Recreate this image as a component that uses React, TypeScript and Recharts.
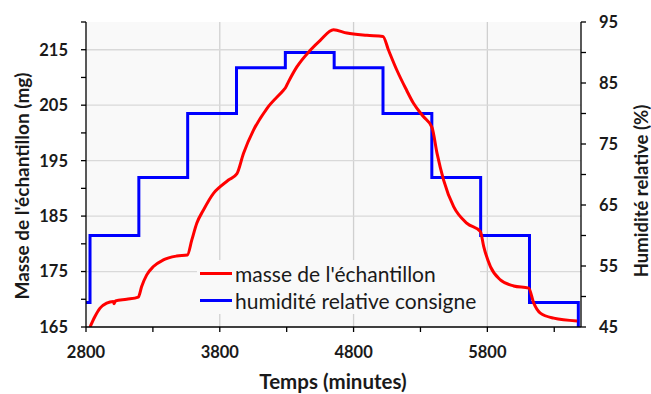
import {
  CartesianGrid,
  ComposedChart,
  Label,
  Legend,
  Line,
  ReferenceLine,
  XAxis,
  YAxis,
} from "recharts";

// sample mass (mg) vs time (minutes)
const massTime = [
  2830, 2867, 2905, 2955, 3004, 3010, 3020, 3104, 3191, 3216, 3254, 3304, 3378,
  3478, 3558, 3591, 3628, 3678, 3753, 3803, 3865, 3927, 3977, 4052, 4152, 4276,
  4290, 4313, 4376, 4476, 4551, 4650, 4750, 4900, 5020, 5060, 5124, 5190, 5249,
  5320, 5386, 5424, 5473, 5548, 5648, 5748, 5773, 5823, 5897, 5997, 6109, 6147,
  6196, 6296, 6471,
];
const massValues = [
  165.0, 166.9, 168.4, 169.3, 169.6, 169.2, 169.7, 170.0, 170.4, 172.3, 174.4,
  175.9, 177.1, 177.8, 178.0, 180.7, 183.7, 186.1, 189.1, 190.3, 191.5, 192.6,
  196.3, 200.5, 204.4, 207.7, 208.1, 209.2, 211.9, 214.9, 216.7, 218.6, 218.0,
  217.6, 217.4, 215.0, 211.3, 208.0, 205.3, 203.0, 201.0, 196.3, 191.5, 186.7,
  183.7, 182.2, 179.5, 175.9, 173.5, 172.4, 172.0, 169.3, 167.5, 166.6, 166.1,
];

// relative humidity set point (%), step changes
const rhTime = [2800, 2830, 3195, 3560, 3925, 4290, 4655, 5020, 5385, 5750, 6115, 6480];
const rhValues = [49, 60, 69.5, 80, 87.5, 90, 87.5, 80, 69.5, 60, 49, 45];

const xTicks = [2800, 3300, 3800, 4300, 4800, 5300, 5800, 6300];
const xLabels = [2800, 3800, 4800, 5800];
const massTicks = [165, 170, 175, 180, 185, 190, 195, 200, 205, 210, 215, 220];
const massLabels = [165, 175, 185, 195, 205, 215];
const rhTicks = [45, 50, 55, 60, 65, 70, 75, 80, 85, 90, 95];
const rhLabels = [45, 55, 65, 75, 85, 95];
const gridX = [3800, 4800, 5800];
const gridY = [175, 185, 195, 205, 215];

const massData = massTime.map((t, i) => ({ t, mass: massValues[i] }));
const rhData = rhTime.map((t, i) => ({ t, rh: rhValues[i] }));

const FONT = "Lato, 'Open Sans', sans-serif";
const INK = "#1a1a1a";

function makeTick(labels: number[], anchor: "start" | "middle" | "end", dy: string) {
  return (props: any) => {
    const { x, y, payload } = props;
    if (!labels.includes(payload.value)) return <g />;
    return (
      <text
        x={x}
        y={y}
        dy={dy}
        textAnchor={anchor}
        fontFamily={FONT}
        fontWeight={700}
        fontSize={16.5}
        fill={INK}
      >
        {payload.value}
      </text>
    );
  };
}

function LegendBox() {
  const items = [
    { name: "masse de l'échantillon", color: "#ff0000" },
    { name: "humidité relative consigne", color: "#0000ff" },
  ];
  return (
    <div
      style={{
        background: "#f9f9f9",
        padding: "0px 4px 0px 3px",
        fontFamily: FONT,
        fontSize: 21,
        color: INK,
        lineHeight: "27px",
      }}
    >
      {items.map((it) => (
        <div key={it.name} style={{ display: "flex", alignItems: "center", whiteSpace: "nowrap" }}>
          <span
            style={{
              display: "inline-block",
              width: 32,
              height: 3,
              background: it.color,
              marginRight: 3,
            }}
          />
          {it.name}
        </div>
      ))}
    </div>
  );
}

export default function App() {
  return (
    <div style={{ position: "absolute", left: 0, top: 0, background: "#fff" }}>
      <ComposedChart
        width={651}
        height={394}
        margin={{ top: 22, right: 0, bottom: 0, left: 0 }}
      >
        <CartesianGrid fill="#f9f9f9" horizontal={false} vertical={false} />
        <XAxis
          type="number"
          dataKey="t"
          domain={[2800, 6500]}
          ticks={xTicks}
          interval={0}
          height={67}
          tickSize={5}
          tickMargin={14}
          stroke="#000"
          strokeWidth={1.3}
          tick={makeTick(xLabels, "middle", "0.71em")}
          allowDataOverflow
        >
          <Label
            content={() => (
              <text
                x={333}
                y={389}
                textAnchor="middle"
                fontFamily={FONT}
                fontWeight={700}
                fontSize={20.5}
                fill={INK}
              >
                Temps (minutes)
              </text>
            )}
          />
        </XAxis>
        <YAxis
          yAxisId="mass"
          orientation="left"
          domain={[165, 220]}
          ticks={massTicks}
          interval={0}
          width={86}
          tickSize={5}
          tickMargin={13}
          stroke="#000"
          strokeWidth={1.3}
          tick={makeTick(massLabels, "end", "0.36em")}
          allowDataOverflow
        >
          <Label
            content={() => (
              <text
                x={29}
                y={186}
                transform="rotate(-90 29 186)"
                textAnchor="middle"
                fontFamily={FONT}
                fontWeight={700}
                fontSize={19}
                fill={INK}
              >
                Masse de l'échantillon (mg)
              </text>
            )}
          />
        </YAxis>
        <YAxis
          yAxisId="rh"
          orientation="right"
          domain={[45, 95]}
          ticks={rhTicks}
          interval={0}
          width={70}
          tickSize={5}
          tickMargin={13}
          stroke="#000"
          strokeWidth={1.3}
          tick={makeTick(rhLabels, "start", "0.36em")}
          allowDataOverflow
        >
          <Label
            content={() => (
              <text
                x={648}
                y={191}
                transform="rotate(-90 648 191)"
                textAnchor="middle"
                fontFamily={FONT}
                fontWeight={700}
                fontSize={18.5}
                fill={INK}
              >
                Humidité relative (%)
              </text>
            )}
          />
        </YAxis>
        {gridX.map((v) => (
          <ReferenceLine key={"x" + v} x={v} yAxisId="mass" stroke="#d0d0d0" strokeWidth={1.3} />
        ))}
        {gridY.map((v) => (
          <ReferenceLine key={"y" + v} y={v} yAxisId="mass" stroke="#d9d9d9" strokeWidth={1.3} />
        ))}
        <Line
          yAxisId="rh"
          data={rhData}
          dataKey="rh"
          type="stepAfter"
          stroke="#0000ff"
          strokeWidth={3}
          dot={false}
          isAnimationActive={false}
        />
        <Line
          yAxisId="mass"
          data={massData}
          dataKey="mass"
          type="monotone"
          stroke="#ff0000"
          strokeWidth={3}
          dot={false}
          isAnimationActive={false}
        />
        <Legend
          layout="horizontal"
          verticalAlign="middle"
          align="center"
          content={() => <LegendBox />}
          wrapperStyle={{ left: 197, top: 260, width: "auto", bottom: "auto", right: "auto" }}
        />
      </ComposedChart>
    </div>
  );
}
